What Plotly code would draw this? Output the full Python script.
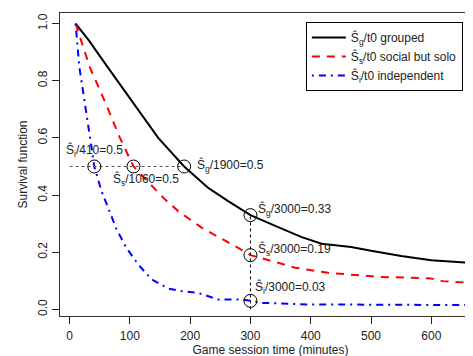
import plotly.graph_objects as go

# Kaplan-Meier style survival curves
t_grouped = [10, 31, 64, 100, 147, 190, 230, 263, 300, 346, 385, 418, 467, 500, 550, 600, 661, 690]
s_grouped = [1.0, 0.944, 0.845, 0.739, 0.60, 0.50, 0.425, 0.379, 0.33, 0.288, 0.253, 0.23, 0.218, 0.205, 0.187, 0.172, 0.163, 0.16]

t_social = [10, 20, 34, 60, 83.5, 106, 141, 158, 180, 219, 274, 300, 346, 374, 429, 512, 560, 600, 619, 677, 690]
s_social = [1.0, 0.938, 0.845, 0.72, 0.60, 0.50, 0.425, 0.385, 0.344, 0.286, 0.222, 0.19, 0.163, 0.146, 0.128, 0.114, 0.111, 0.108, 0.099, 0.091, 0.09]

t_indep = [10, 13, 16, 34, 41, 53, 78, 94, 114, 136, 164, 186, 213, 246, 285, 300, 318, 395, 661, 690]
s_indep = [1.0, 0.938, 0.851, 0.60, 0.50, 0.414, 0.28, 0.216, 0.157, 0.105, 0.073, 0.064, 0.058, 0.035, 0.035, 0.03, 0.023, 0.0175, 0.015, 0.015]

# Highlighted points
med_t = [41, 106, 190]
med_s = [0.5, 0.5, 0.5]
t300 = [300, 300, 300]
s300 = [0.33, 0.19, 0.03]

x_ticks = [0, 100, 200, 300, 400, 500, 600]
y_ticks = [0.0, 0.2, 0.4, 0.6, 0.8, 1.0]
y_tick_text = ["0.0", "0.2", "0.4", "0.6", "0.8", "1.0"]

fig = go.Figure()
fig.add_trace(go.Scatter(x=t_grouped, y=s_grouped, mode="lines",
                         line=dict(color="black", width=2),
                         name="Ŝ<sub>g</sub>/t0 grouped"))
fig.add_trace(go.Scatter(x=t_social, y=s_social, mode="lines",
                         line=dict(color="#FF0000", width=2, dash="8px,7px"),
                         name="Ŝ<sub>s</sub>/t0 social but solo"))
fig.add_trace(go.Scatter(x=t_indep, y=s_indep, mode="lines",
                         line=dict(color="#0000FF", width=2, dash="2px,5px,7px,5px"),
                         name="Ŝ<sub>i</sub>/t0 independent"))

# reference lines
fig.add_trace(go.Scatter(x=[0, med_t[2]], y=[0.5, 0.5], mode="lines",
                         line=dict(color="#555555", width=1, dash="3px,3px"),
                         showlegend=False, hoverinfo="skip"))
fig.add_trace(go.Scatter(x=[300, 300], y=[0.0, s300[0]], mode="lines",
                         line=dict(color="black", width=1, dash="3px,3px"),
                         showlegend=False, hoverinfo="skip"))

fig.add_trace(go.Scatter(x=med_t + t300, y=med_s + s300, mode="markers",
                         marker=dict(symbol="circle-open", size=13,
                                     color="black", line=dict(width=1, color="black")),
                         showlegend=False, hoverinfo="skip"))

font_txt = dict(family="Liberation Sans, Arial, sans-serif", size=12, color="#222222")
labels = [
    (41, 0.555, "Ŝ<sub>i</sub>/410=0.5", "center"),
    (68, 0.455, "Ŝ<sub>s</sub>/1060=0.5", "left"),
    (208, 0.503, "Ŝ<sub>g</sub>/1900=0.5", "left"),
    (310, 0.35, "Ŝ<sub>g</sub>/3000=0.33", "left"),
    (310, 0.21, "Ŝ<sub>s</sub>/3000=0.19", "left"),
    (305, 0.075, "Ŝ<sub>i</sub>/3000=0.03", "left"),
]
for x, y, txt, anc in labels:
    fig.add_annotation(x=x, y=y, text=txt, showarrow=False, xanchor=anc,
                       yanchor="middle", font=font_txt)

fig.update_layout(
    width=473, height=356,
    margin=dict(l=52, r=0, t=5, b=48),
    paper_bgcolor="white", plot_bgcolor="white",
    font=font_txt,
    showlegend=True,
    legend=dict(x=0.584, y=0.97, xanchor="left", yanchor="top",
                bgcolor="white", bordercolor="black", borderwidth=1,
                font=dict(family="Liberation Sans, Arial, sans-serif", size=12, color="#222222"),
                tracegroupgap=0, itemwidth=34),
    xaxis=dict(range=[-15.9, 682.4], tickvals=x_ticks, ticks="outside", ticklen=7,
               tickcolor="#222222", showgrid=False, zeroline=False,
               showline=True, linecolor="#333333", linewidth=1, mirror=True,
               ticklabelstandoff=2,
               title=dict(text="Game session time (minutes)", standoff=2,
                          font=font_txt)),
    yaxis=dict(range=[-0.023, 1.037], tickvals=y_ticks, ticktext=y_tick_text,
               ticks="outside", ticklen=7, tickangle=-90,
               tickcolor="#222222", showgrid=False, zeroline=False,
               showline=True, linecolor="#333333", linewidth=1,
               title=dict(text="Survival function", standoff=6, font=font_txt)),
)

fig.write_html("out.html")
